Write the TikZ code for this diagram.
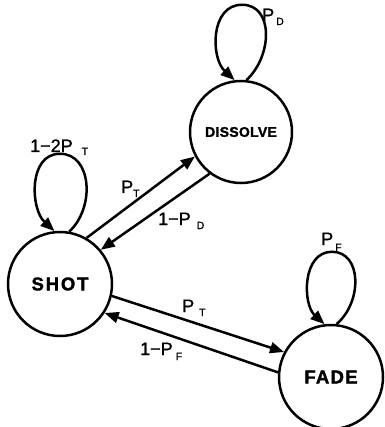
\documentclass[tikz,border=0pt]{standalone}
\usepackage{fontspec}
\setmainfont{Liberation Sans}
\usetikzlibrary{arrows.meta,calc}

% subscript of a probability label: [drop]{gap}{letter}
\newcommand\probsub[3][4]{\hspace{#2pt}\raisebox{-#1pt}{\fontsize{10.5}{11}\selectfont #3}}

\begin{document}
\begin{tikzpicture}[x=1pt,y=-1pt,
  state/.style={circle,draw,line width=2.5pt,inner sep=0pt,minimum size=104pt,
    font=\bfseries\fontsize{18.5}{20}\selectfont\addfontfeature{FakeBold=1.5}},
  flow/.style={line width=2.5pt,-{Triangle[length=14pt,width=11pt]}},
  prob/.style={inner sep=0pt,anchor=base west,
    font=\fontsize{18}{18}\selectfont\addfontfeature{FakeBold=1.2}},
]
\useasboundingbox (0,0) rectangle (384,427);

% states
\node[state] (shot) at (60,284) {\addfontfeature{LetterSpace=10}SHOT};
\node[state,minimum size=102pt,font=\bfseries\fontsize{14}{16}\selectfont\addfontfeature{FakeBold=1.5}]
  (dissolve) at (241,132) {\addfontfeature{LetterSpace=2}DISSOLVE};
\node[state] (fade) at (331,377) {\addfontfeature{LetterSpace=7}FADE};

% self-loops
\draw[flow] (shot.80) .. controls +(26,-24) and +(32,0) .. ($(shot.north)+(0,-77)$)
  .. controls +(-32,0) and +(-24,-22) .. (shot.96);
\draw[flow] (dissolve.84) .. controls +(26,-24) and +(32,0) .. ($(dissolve.north)+(1,-75)$)
  .. controls +(-32,0) and +(-24,-22) .. (dissolve.97);
\draw[flow] (fade.84) .. controls +(26,-22) and +(30,0) .. ($(fade.north)+(1,-72)$)
  .. controls +(-30,0) and +(-22,-20) .. (fade.97);

% transitions
\draw[flow] (shot.60) -- (dissolve.208);
\draw[flow] (dissolve.233) -- (shot.40);
\draw[flow] (shot.347) -- (fade.152);
\draw[flow] (fade.175) -- (shot.327);

% probabilities
\node[prob] (pss) at (30,152) {1−2P\probsub[3]{9}{T}};
\node[prob] (psd) at (121,193) {P\probsub{0}{T}};
\node[prob] (pds) at (158,225) {1−P\probsub{6}{D}};
\node[prob] (psf) at (182,312) {P\probsub{5}{T}};
\node[prob] (pfs) at (140,355) {1−P\probsub[5]{3}{F}};
\node[prob] (pdd) at (262,21) {P\probsub{2}{D}};
\node[prob] (pff) at (321,245) {P\probsub[6]{2}{F}};
\end{tikzpicture}
\end{document}
